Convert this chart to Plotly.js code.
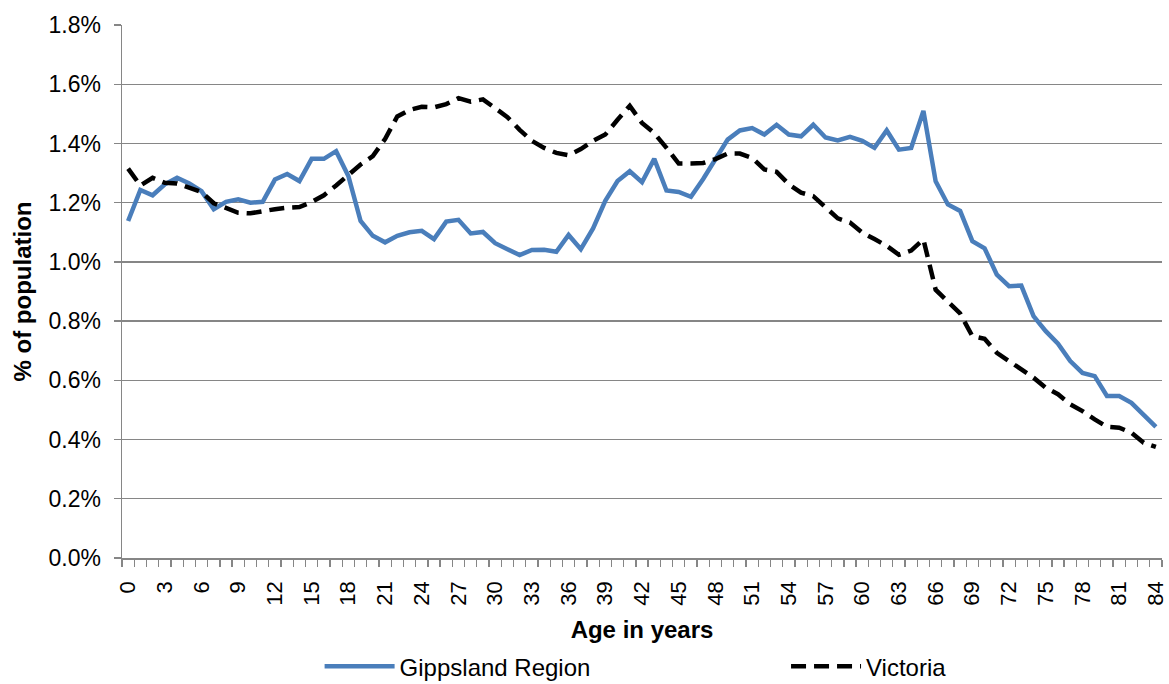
<!DOCTYPE html>
<html>
<head>
<meta charset="utf-8">
<script src="https://cdn.plot.ly/plotly-3.0.1.min.js"></script>
<style>
  html, body { margin: 0; padding: 0; background: #ffffff; }
  #chart { width: 1169px; height: 684px; }
</style>
</head>
<body>
<div id="chart"></div>
<script>
// Age categories (years)
const ages = [];
for (let a = 0; a <= 84; a++) ages.push(a);

// % of population by single year of age
const gippsland = [
  1.138, 1.243, 1.225, 1.262, 1.284, 1.265, 1.239, 1.178, 1.203, 1.211,
  1.200, 1.203, 1.278, 1.297, 1.273, 1.348, 1.348, 1.374, 1.290, 1.138,
  1.088, 1.066, 1.088, 1.100, 1.105, 1.077, 1.136, 1.142, 1.096, 1.101,
  1.063, 1.045, 1.023, 1.040, 1.041, 1.034, 1.091, 1.043, 1.113, 1.206,
  1.273, 1.306, 1.269, 1.348, 1.241, 1.236, 1.220, 1.280, 1.346, 1.413,
  1.444, 1.452, 1.430, 1.463, 1.430, 1.424, 1.463, 1.420, 1.410, 1.422,
  1.409, 1.385, 1.444, 1.379, 1.385, 1.510, 1.272, 1.194, 1.172, 1.070,
  1.046, 0.957, 0.918, 0.920, 0.817, 0.766, 0.724, 0.665, 0.625, 0.614,
  0.547, 0.547, 0.524, 0.482, 0.443
];

const victoria = [
  1.315, 1.258, 1.284, 1.267, 1.265, 1.250, 1.236, 1.198, 1.180, 1.166,
  1.164, 1.172, 1.178, 1.183, 1.185, 1.202, 1.225, 1.258, 1.295, 1.329,
  1.357, 1.415, 1.491, 1.513, 1.524, 1.522, 1.533, 1.553, 1.541, 1.549,
  1.519, 1.489, 1.446, 1.409, 1.385, 1.368, 1.360, 1.381, 1.409, 1.430,
  1.480, 1.527, 1.469, 1.435, 1.385, 1.332, 1.332, 1.334, 1.347, 1.366,
  1.366, 1.351, 1.312, 1.304, 1.262, 1.234, 1.222, 1.183, 1.147, 1.133,
  1.099, 1.077, 1.054, 1.024, 1.038, 1.076, 0.906, 0.866, 0.826, 0.749,
  0.740, 0.693, 0.665, 0.637, 0.609, 0.575, 0.553, 0.519, 0.496, 0.468,
  0.443, 0.440, 0.423, 0.389, 0.375
];

// x tick labels (every 3 years)
const xTickVals = [];
for (let a = 0; a <= 84; a += 3) xTickVals.push(a);
const xTickLabels = xTickVals.map(String);

// y tick values (%)
const yTickVals = [0, 0.2, 0.4, 0.6, 0.8, 1.0, 1.2, 1.4, 1.6, 1.8];
const yTickLabels = yTickVals.map(v => v.toFixed(1) + '%');

const seriesNames = ['Gippsland Region', 'Victoria'];

const FONT = 'Liberation Sans, Arial, Helvetica, sans-serif';
const GRID = '#868686';

const traces = [
  {
    x: ages, y: gippsland, name: seriesNames[0], type: 'scatter', mode: 'lines',
    line: { color: '#4A7EBB', width: 4.5 }, legend: 'legend'
  },
  {
    x: ages, y: victoria, name: seriesNames[1], type: 'scatter', mode: 'lines',
    line: { color: '#000000', width: 4.5, dash: '15px,8px' }, legend: 'legend2'
  }
];

const legendCommon = {
  orientation: 'h',
  y: -0.204, yanchor: 'middle',
  font: { family: FONT, size: 24, color: '#000000' },
  itemwidth: 70,
  bgcolor: 'rgba(0,0,0,0)',
  borderwidth: 0
};

const layout = {
  width: 1169, height: 684,
  margin: { l: 122, r: 7, t: 25, b: 126, autoexpand: false },
  paper_bgcolor: '#ffffff', plot_bgcolor: '#ffffff',
  font: { family: FONT, color: '#000000', size: 22 },
  showlegend: true,
  legend: Object.assign({}, legendCommon, { x: 0.19, xanchor: 'left' }),
  legend2: Object.assign({}, legendCommon, { x: 0.6385, xanchor: 'left' }),
  xaxis: {
    type: 'linear',
    range: [-0.5, 84.5],
    tickvals: xTickVals, ticktext: xTickLabels,
    tickangle: -90,
    ticks: 'outside', ticklen: 6, tickcolor: 'rgba(0,0,0,0)',
    ticklabelstandoff: 7,
    minor: { tick0: 0.5, dtick: 1, ticks: 'outside', ticklen: 7, tickcolor: GRID, tickwidth: 1.3, showgrid: false },
    tickfont: { family: FONT, size: 22, color: '#000000' },
    showline: true, linecolor: GRID, linewidth: 1.5,
    showgrid: false, zeroline: false,
    automargin: false,
    fixedrange: true,
    title: { text: '<b>Age in years</b>', font: { family: FONT, size: 24, color: '#000000' }, standoff: 16 }
  },
  yaxis: {
    range: [0, 1.8],
    tickvals: yTickVals, ticktext: yTickLabels,
    ticks: 'outside', ticklen: 7, tickcolor: GRID, tickwidth: 1.3,
    tickfont: { family: FONT, size: 23, color: '#000000' },
    ticklabelstandoff: 8,
    showline: true, linecolor: GRID, linewidth: 1.5,
    showgrid: true, gridcolor: GRID, gridwidth: 1.3,
    zeroline: false,
    automargin: false,
    fixedrange: true,
    title: { text: '<b>% of population</b>', font: { family: FONT, size: 24, color: '#000000' }, standoff: 10 }
  }
};

Plotly.newPlot('chart', traces, layout, { displayModeBar: false, staticPlot: true });
</script>
</body>
</html>
